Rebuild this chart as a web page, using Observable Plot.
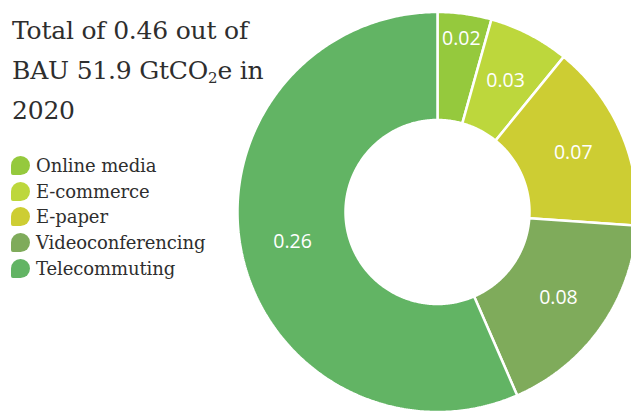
<!DOCTYPE html>
<html>
<head>
<meta charset="utf-8">
<script src="https://cdn.jsdelivr.net/npm/d3@7"></script>
<script src="https://cdn.jsdelivr.net/npm/@observablehq/plot@0.6"></script>
<style>
  html, body { margin: 0; padding: 0; background: #fff; }
  #wrap { position: relative; width: 631px; height: 413px; overflow: hidden; background: #fff; }
  #chart { position: absolute; left: 0; top: 0; }
  #title {
    position: absolute; left: 12px; top: 11px;
    font-family: "DejaVu Serif", serif; font-size: 25px; line-height: 40px;
    letter-spacing: -0.2px; color: #2e2e2e; white-space: nowrap;
  }
  #title sub { font-size: 15px; vertical-align: -4px; line-height: 0; }
  #legend {
    position: absolute; left: 11px; top: 153px;
    font-family: "DejaVu Serif", serif; font-size: 18px; color: #2e2e2e;
    letter-spacing: -0.1px;
  }
  .row { display: flex; align-items: center; height: 25.6px; white-space: nowrap; }
  .sw { width: 19px; height: 19px; border-radius: 50% 50% 50% 10%; margin-right: 6px; flex: none; }
</style>
</head>
<body>
<div id="wrap">
  <div id="chart"></div>
  <div id="title">Total of 0.46 out of<br>BAU 51.9 GtCO<sub>2</sub>e in<br>2020</div>
  <div id="legend"></div>
</div>
<script>
const categories = ["Online media", "E-commerce", "E-paper", "Videoconferencing", "Telecommuting"];
const values = [0.02, 0.03, 0.07, 0.08, 0.26];
const colors = ["#95c93d", "#bdd73c", "#cdcd33", "#7fab5b", "#62b464"];

const data = categories.map((name, i) => ({name, value: values[i]}));
const total = d3.sum(values);

const innerR = 0.46;
const outerR = 1;
const arcs = d3.pie().sort(null).value(d => d.value).startAngle(0).endAngle(2 * Math.PI)(data);

// build slice outlines from pie angles
const outline = [];
for (const a of arcs) {
  const n = Math.max(8, Math.ceil((a.endAngle - a.startAngle) / 0.01));
  const pts = [];
  for (let k = 0; k <= n; k++) {
    const t = a.startAngle + (a.endAngle - a.startAngle) * k / n;
    pts.push([outerR * Math.sin(t), outerR * Math.cos(t)]);
  }
  for (let k = n; k >= 0; k--) {
    const t = a.startAngle + (a.endAngle - a.startAngle) * k / n;
    pts.push([innerR * Math.sin(t), innerR * Math.cos(t)]);
  }
  pts.push(pts[0]);
  pts.forEach(([x, y]) => outline.push({name: a.data.name, x, y}));
}

const labels = arcs.map(a => {
  const mid = (a.startAngle + a.endAngle) / 2;
  const r = a.data.value / total < 0.05 ? 0.875 : 0.74;
  return {x: r * Math.sin(mid), y: r * Math.cos(mid), text: d3.format(".2f")(a.data.value)};
});

const cx = 437, cy = 211.5, R = 200;
const chart = Plot.plot({
  width: 631,
  height: 413,
  margin: 0,
  x: {domain: [-1, 1], range: [cx - R, cx + R], axis: null},
  y: {domain: [-1, 1], range: [cy + R, cy - R], axis: null},
  color: {domain: categories, range: colors},
  style: {background: "transparent"},
  marks: [
    Plot.line(outline, {x: "x", y: "y", z: "name", fill: "name", stroke: "white", strokeWidth: 2.5, strokeLinejoin: "miter"}),
    Plot.text(labels, {x: "x", y: "y", text: "text", fill: "white", fontFamily: "Open Sans", fontSize: 19.5})
  ]
});
document.getElementById("chart").appendChild(chart);

const legend = document.getElementById("legend");
categories.forEach((name, i) => {
  const row = document.createElement("div");
  row.className = "row";
  const sw = document.createElement("span");
  sw.className = "sw";
  sw.style.background = colors[i];
  const label = document.createElement("span");
  label.textContent = name;
  row.appendChild(sw);
  row.appendChild(label);
  legend.appendChild(row);
});
</script>
</body>
</html>
